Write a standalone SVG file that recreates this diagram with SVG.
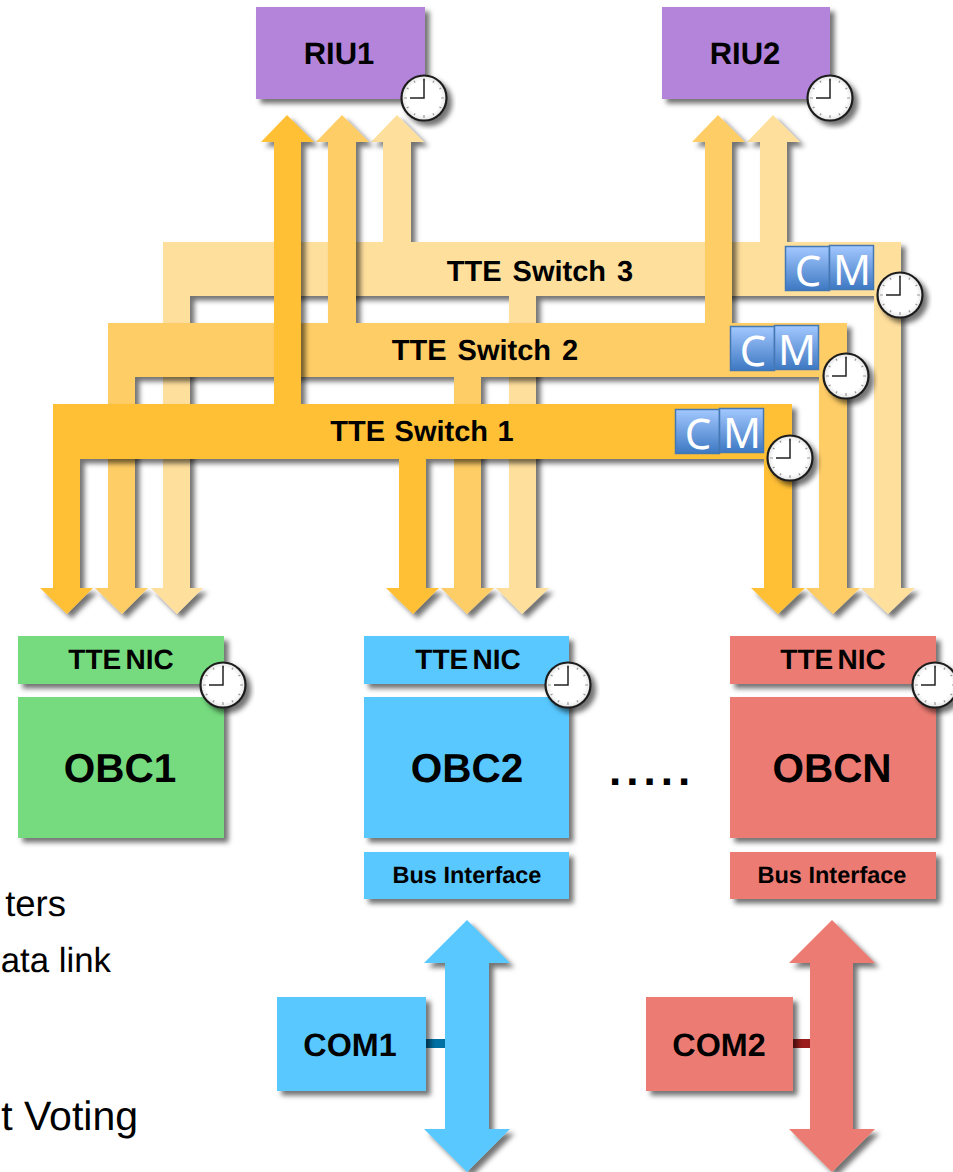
<svg xmlns="http://www.w3.org/2000/svg" xmlns:xlink="http://www.w3.org/1999/xlink" width="953" height="1172" viewBox="0 0 953 1172">
<style>
text{font-family:"Liberation Sans",Arial,sans-serif;fill:#000;text-rendering:geometricPrecision}
.b{font-weight:700;text-anchor:middle}
.big{font-size:40.500px}.nic{font-size:28px;word-spacing:-3.500px}.bus{font-size:23.500px}.com{font-size:32.300px}.riu{font-size:31px}.sw{font-size:29px;word-spacing:3px}
.frag{text-anchor:end}
.cm{font-family:"Noto Sans","Open Sans",sans-serif;font-size:42px;fill:#fff;text-anchor:middle}
.cmb{fill:url(#cmg);stroke:#4478B4;stroke-width:1.5}
.sh{filter:url(#sh)}
</style>
<defs>
<filter id="sh" x="-20%" y="-20%" width="140%" height="140%"><feDropShadow dx="4.500" dy="4.500" stdDeviation="2.500" flood-color="#000" flood-opacity=".55"/></filter>
<linearGradient id="cmg" x1="0" y1="0" x2="0" y2="1"><stop offset="0" stop-color="#A3C8FF"/><stop offset="1" stop-color="#3D78C2"/></linearGradient>
<radialGradient id="face" cx=".5" cy=".5" r=".5"><stop offset=".75" stop-color="#fff"/><stop offset="1" stop-color="#e4e4e4"/></radialGradient>
<g id="clock">
<circle r="22.500" fill="url(#face)" stroke="#1c1c1c" stroke-width="2.200" class="sh"/>
<path d="M0-20V-17M10-17.300L8.900-15.400M17.300-10L15.400-8.900M20 0H17M17.300 10L15.400 8.900M10 17.300L8.900 15.400M0 20V17M-10 17.300L-8.900 15.400M-17.300 10L-15.400 8.900M-20 0H-17M-17.300-10L-15.400-8.900M-10-17.300L-8.900-15.400" stroke="#999" stroke-width="1.200" fill="none"/>
<path d="M0-19V0H-14" stroke="#222" stroke-width="1.500" fill="none"/>
</g>
</defs>
<rect width="953" height="1172" fill="#fff"/>
<g id="connectors">
<path class="sh" fill="#FFDF9C" d="M397 115L424 142H411V242H760V142H747L773 115L800 142H787V242H901V588H915L888 614L861 588H874V296H536V588H549L522 614L496 588H509V296H190V588H203L177 614L151 588H163V242H383V142H371Z"/>
<path class="sh" fill="#FFCD66" d="M342 115L369 142H356V323H705V142H692L718 115L745 142H732V323H847V588H860L833 614L806 588H819V377H481V588H494L467 614L441 588H454V377H135V588H148L122 614L95 588H108V323H328V142H316Z"/>
<path class="sh" fill="#FFC035" d="M287 115L314 142H301V404H792V588H805L778 614L751 588H764V459H426V588H439L413 614L386 588H399V459H80V588H93L67 614L40 588H53V404H274V142H261Z"/>
<rect x="426" y="1039" width="20" height="9" fill="#006FA3"/>
<rect x="793" y="1039" width="19" height="9" fill="#9A1C1C"/>
<path class="sh" fill="#59C8FF" d="M467 920L510 963H489V1129H510L467 1172L424 1129H445V963H424Z"/>
<path class="sh" fill="#EC7B73" d="M832 920L875 963H853V1129H875L832 1172L789 1129H810V963H789Z"/>
</g>
<g id="switch-3"><text class="b sw" x="540" y="281">TTE Switch 3</text>
<rect class="cmb" x="785.500" y="246.500" width="44" height="44"/><text class="cm" x="808" y="286">C</text>
<rect class="cmb" x="829.500" y="245.500" width="44" height="44"/><text class="cm" x="852" y="285">M</text>
<use href="#clock" x="900" y="295"/></g>
<g id="switch-2"><text class="b sw" x="485" y="360">TTE Switch 2</text>
<rect class="cmb" x="730.500" y="326.500" width="44" height="44"/><text class="cm" x="753" y="366">C</text>
<rect class="cmb" x="774.500" y="325.500" width="44" height="44"/><text class="cm" x="797" y="365">M</text>
<use href="#clock" x="846" y="376"/></g>
<g id="switch-1"><text class="b sw" x="422" y="441" style="word-spacing:1.500px">TTE Switch 1</text>
<rect class="cmb" x="675.500" y="409.500" width="44" height="44"/><text class="cm" x="698" y="449">C</text>
<rect class="cmb" x="719.500" y="408.500" width="44" height="44"/><text class="cm" x="742" y="448">M</text>
<use href="#clock" x="790" y="458"/></g>
<g id="riu1"><rect class="sh" x="256" y="7" width="169" height="92" fill="#B484DA"/><text class="b riu" x="339" y="64">RIU1</text><use href="#clock" x="424" y="98"/></g>
<g id="riu2"><rect class="sh" x="662" y="7" width="168" height="92" fill="#B484DA"/><text class="b riu" x="745" y="64">RIU2</text><use href="#clock" x="830" y="98"/></g>
<g id="obc1"><rect class="sh" x="18" y="636" width="206" height="48" fill="#75DB7E"/><rect class="sh" x="18" y="697" width="206" height="141" fill="#75DB7E"/><text class="b nic" x="121" y="669">TTE NIC</text><text class="b big" x="120" y="782">OBC1</text><use href="#clock" x="223" y="685"/></g>
<g id="obc2"><rect class="sh" x="364" y="636" width="205" height="48" fill="#59C8FF"/><rect class="sh" x="364" y="697" width="205" height="141" fill="#59C8FF"/><rect class="sh" x="364" y="852" width="205" height="47" fill="#59C8FF"/><text class="b nic" x="468" y="669">TTE NIC</text><text class="b big" x="467" y="782">OBC2</text><text class="b bus" x="467" y="883">Bus Interface</text><use href="#clock" x="568" y="685"/></g>
<g id="obcn"><rect class="sh" x="730" y="636" width="206" height="48" fill="#EC7B73"/><rect class="sh" x="730" y="697" width="206" height="141" fill="#EC7B73"/><rect class="sh" x="730" y="852" width="206" height="47" fill="#EC7B73"/><text class="b nic" x="833" y="669">TTE NIC</text><text class="b big" x="832" y="782">OBCN</text><text class="b bus" x="832" y="883">Bus Interface</text><use href="#clock" x="935" y="685"/></g>
<g id="com1"><rect class="sh" x="277" y="997" width="149" height="94" fill="#59C8FF"/><text class="b com" x="350" y="1056">COM1</text></g>
<g id="com2"><rect class="sh" x="646" y="997" width="147" height="94" fill="#EC7B73"/><text class="b com" x="719" y="1056">COM2</text></g>
<text x="609" y="785" font-size="44" font-weight="700" letter-spacing="5">.....</text>
<text class="frag" x="66" y="916" font-size="36.500">ters</text>
<text class="frag" x="111" y="972" font-size="34.800">ata link</text>
<text class="frag" x="138" y="1130" font-size="41">t Voting</text>
</svg>
